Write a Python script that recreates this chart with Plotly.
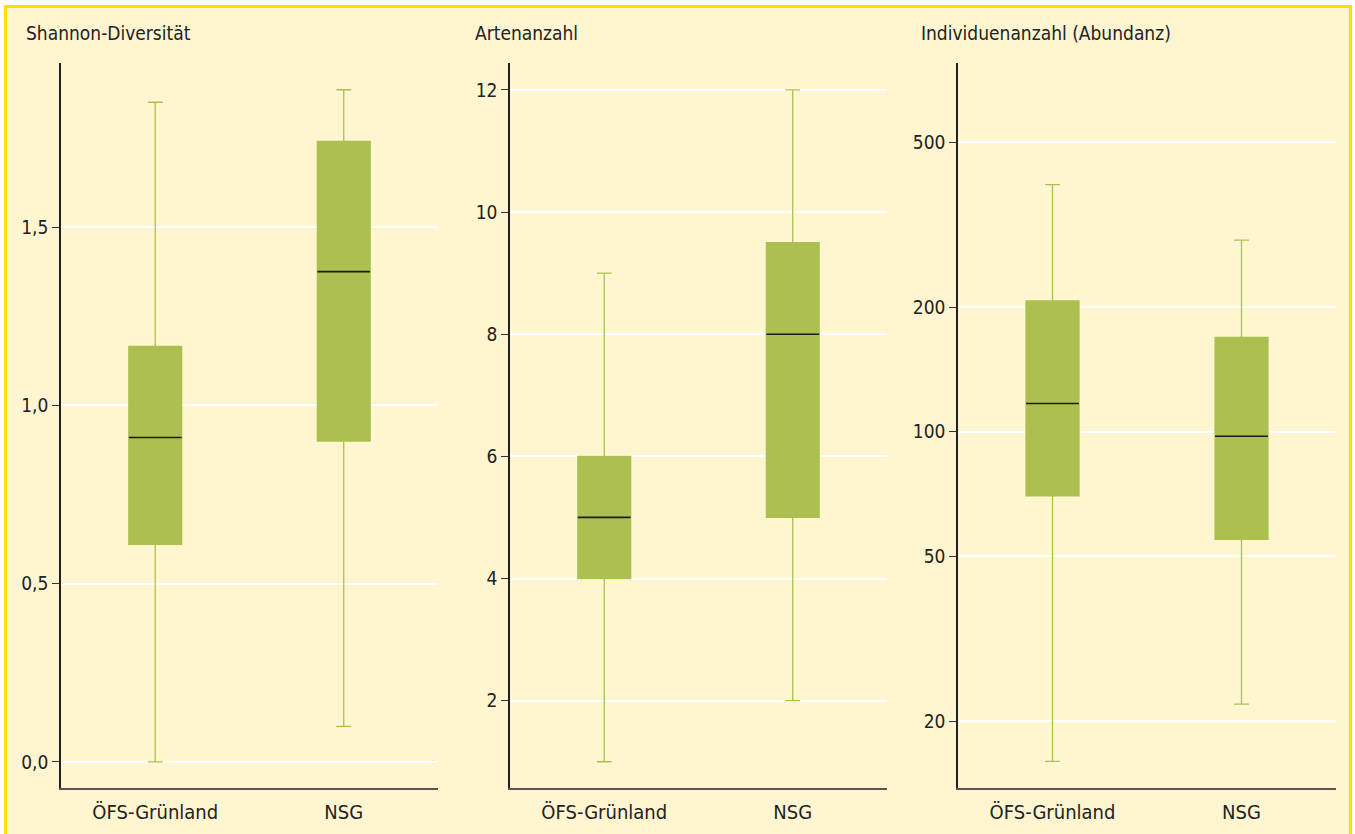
import plotly.graph_objects as go

# Gruppen
gruppen = ["ÖFS-Grünland", "NSG"]

# Shannon-Diversität (Boxplot-Kennwerte je Gruppe)
shannon_min = [0.0, 0.10]
shannon_q1 = [0.61, 0.90]
shannon_median = [0.91, 1.375]
shannon_q3 = [1.165, 1.74]
shannon_max = [1.85, 1.885]

# Artenanzahl
arten_min = [1, 2]
arten_q1 = [4, 5]
arten_median = [5, 8]
arten_q3 = [6, 9.5]
arten_max = [9, 12]

# Individuenanzahl (Abundanz), logarithmische Achse
abund_min = [16, 22]
abund_q1 = [70, 55]
abund_median = [117, 97.5]
abund_q3 = [207, 169]
abund_max = [395, 290]

panel_titel = ["Shannon-Diversität", "Artenanzahl", "Individuenanzahl (Abundanz)"]

W, H = 1355, 834
CREAM = "#FFF5D1"
YELLOW = "#FFDF00"
BOX_FILL = "#AEBF52"
WHISKER = "#A9C24C"
TEXT = "#222222"
FONT = "Liberation Sans Narrow, DejaVu Sans Condensed, sans-serif"
BOX_W = 0.28


def px_x(p):
    return p / W


def px_y(p):
    return 1 - p / H


fig = go.Figure()

panels = [
    (shannon_min, shannon_q1, shannon_median, shannon_q3, shannon_max),
    (arten_min, arten_q1, arten_median, arten_q3, arten_max),
    (abund_min, abund_q1, abund_median, abund_q3, abund_max),
]

for k, (lo, q1, med, q3, hi) in enumerate(panels):
    xa = "x" if k == 0 else f"x{k + 1}"
    ya = "y" if k == 0 else f"y{k + 1}"
    for i in range(len(gruppen)):
        fig.add_trace(go.Box(
            x=[i], q1=[q1[i]], median=[med[i]], q3=[q3[i]],
            lowerfence=[lo[i]], upperfence=[hi[i]],
            width=BOX_W, whiskerwidth=0.28,
            fillcolor=BOX_FILL, line=dict(color=WHISKER, width=1.3),
            boxpoints=False, hoverinfo="skip", showlegend=False,
            xaxis=xa, yaxis=ya,
        ))
        # Median als dunkle Linie über der Box
        fig.add_trace(go.Scatter(
            x=[i - BOX_W / 2, i + BOX_W / 2], y=[med[i], med[i]],
            mode="lines", line=dict(color="#1a1a1a", width=1.6),
            hoverinfo="skip", showlegend=False, xaxis=xa, yaxis=ya,
        ))

x_domains = [(61, 438), (510, 887), (958, 1336)]
y_dom = [px_y(788), px_y(63)]

common_x = dict(
    tickmode="array", tickvals=[0, 1], ticktext=gruppen, range=[-0.5, 1.5],
    showgrid=False, zeroline=False, showline=True, linecolor="#5a5548", linewidth=2,
    ticks="outside", ticklen=5, tickcolor="rgba(0,0,0,0)",
    tickfont=dict(family=FONT, size=20, color=TEXT),
)
common_y = dict(
    showgrid=True, gridcolor="white", gridwidth=1.5, zeroline=False,
    showline=True, linecolor="#222222", linewidth=1.5,
    ticks="outside", ticklen=7, tickwidth=1.3, tickcolor="#333333",
    tickfont=dict(family=FONT, size=19, color=TEXT), domain=y_dom,
)

y_settings = [
    dict(range=[-0.073, 1.96], tickvals=[0, 0.5, 1.0, 1.5], tickformat=".1f"),
    dict(range=[0.57, 12.44], tickvals=[2, 4, 6, 8, 10, 12]),
    dict(type="log", range=[1.14, 2.89], tickvals=[20, 50, 100, 200, 500]),
]

layout = dict(
    width=W, height=H, margin=dict(l=0, r=0, t=0, b=0),
    paper_bgcolor="white", plot_bgcolor="rgba(0,0,0,0)",
    separators=",.", showlegend=False,
)
for k, (a, b) in enumerate(x_domains):
    sx = "" if k == 0 else str(k + 1)
    xd = dict(common_x)
    xd["domain"] = [px_x(a), px_x(b)]
    xd["anchor"] = "y" + sx
    yd = dict(common_y)
    yd.update(y_settings[k])
    yd["anchor"] = "x" + sx
    layout["xaxis" + sx] = xd
    layout["yaxis" + sx] = yd

fig.update_layout(**layout)

# Hintergrund mit gelbem Rahmen
fig.add_shape(
    type="rect", xref="paper", yref="paper",
    x0=px_x(5.5), x1=px_x(1350.5), y0=-0.05, y1=px_y(6.5),
    fillcolor=CREAM, line=dict(color=YELLOW, width=3), layer="below",
)

# Paneltitel
for titel, xpos in zip(panel_titel, [24, 473, 919]):
    fig.add_annotation(
        text=titel, xref="paper", yref="paper", x=px_x(xpos), y=px_y(33),
        xanchor="left", yanchor="middle", showarrow=False,
        font=dict(family=FONT, size=19, color=TEXT),
    )

fig.write_html("out.html")
